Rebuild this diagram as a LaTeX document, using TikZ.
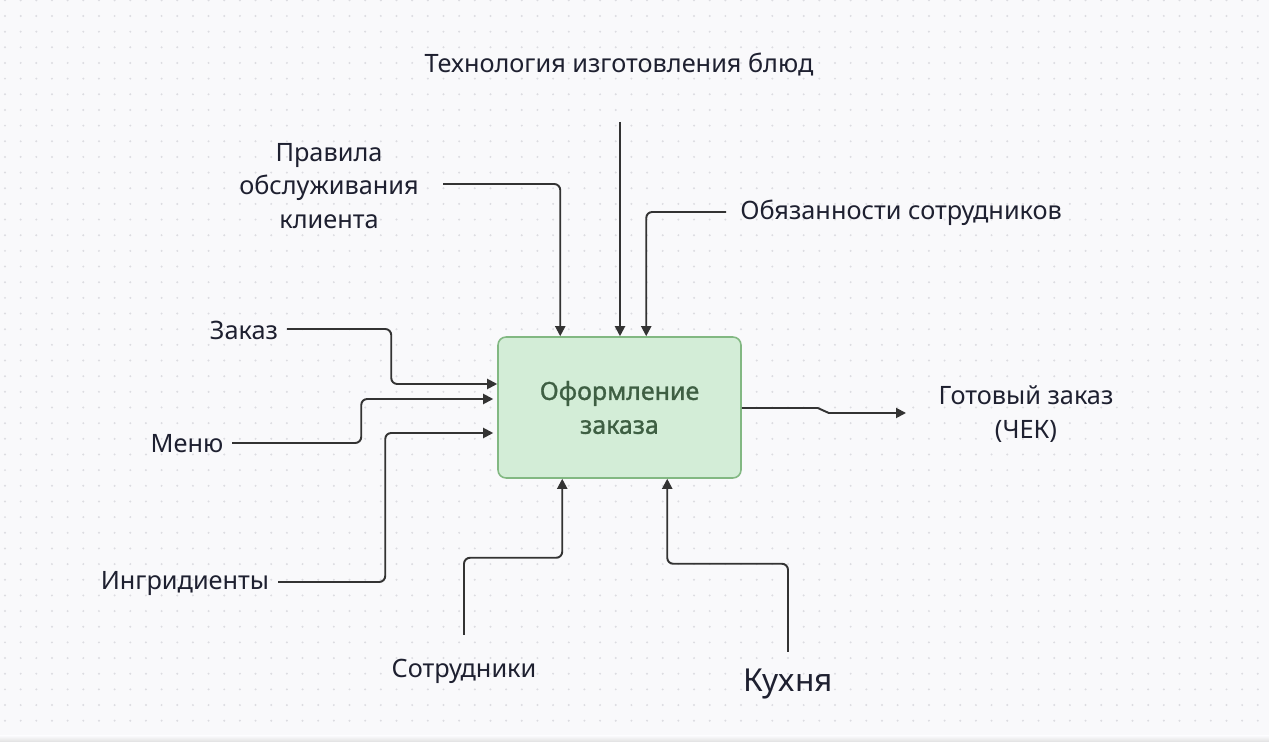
\documentclass[tikz,border=0pt]{standalone}
\usepackage{fontspec}
\setmainfont{Noto Sans}
\newfontfamily\boxfont[FakeBold=1.2]{Noto Sans}
\usetikzlibrary{arrows.meta, positioning, calc}

\definecolor{bgcol}{HTML}{F9F9FB}
\definecolor{dotcol}{HTML}{DCDCE1}
\definecolor{txtcol}{HTML}{1E2030}
\definecolor{linecol}{HTML}{333333}
\definecolor{boxfill}{HTML}{D3EDD7}
\definecolor{boxline}{HTML}{82B882}
\definecolor{boxtext}{HTML}{3E5F43}

\begin{document}
\begin{tikzpicture}[
  x=0.02cm, y=-0.02cm,
  lbl/.style={font=\fontsize{14.4}{19}\selectfont, text=txtcol, align=center, inner sep=0pt},
  proc/.style={draw=boxline, fill=boxfill, rounded corners=0.16cm, line width=0.9pt, minimum width=4.86cm, minimum height=2.82cm, align=center, font=\boxfont\fontsize{14.2}{19.3}\selectfont, text=boxtext},
  flow/.style={-{Triangle[length=2mm, width=2mm]}, line width=1.1pt, draw=linecol, rounded corners=0.12cm}
]

% canvas
\fill[bgcol] (0,0) rectangle (1269,742);
\useasboundingbox (0,0) rectangle (1269,742);
\foreach \i in {0,...,80}
  \foreach \j in {0,...,47}
    \fill[dotcol] (5+\i*15.66, 0.34+\j*15.66) circle (0.022cm);
\shade[top color=bgcol, bottom color=black!12] (0,736) rectangle (1269,742);

% function block
\node[proc] (box) at (619.5,407.5) {Оформление\\заказа};

% labels
\node[lbl] (tech) at (619,65) {Технология изготовления блюд};
\node[lbl] (rules) at (329,186) {Правила\\обслуживания\\клиента};
\node[lbl, anchor=west] (duty) at (740,213) {Обязанности сотрудников};
\node[lbl] (order) at (244,330) {Заказ};
\node[lbl] (menu) at (187,444) {Меню};
\node[lbl] (ingr) at (185,584) {Ингридиенты};
\node[lbl] (done) at (1026,414) {Готовый заказ\\(ЧЕК)};
\node[lbl] (staff) at (464,671) {Сотрудники};
\node[lbl, font=\fontsize{18}{22}\selectfont] (kitchen) at (788,684) {Кухня};

% free ends of the connectors
\coordinate (techS) at (620,122);
\coordinate (rulesS) at (443,184);
\coordinate (dutyS) at (726,212);
\coordinate (orderS) at (287,329);
\coordinate (menuS) at (232,443);
\coordinate (ingrS) at (278,582);
\coordinate (staffS) at (464,635);
\coordinate (kitchS) at (788,652);
\coordinate (doneE) at (906,413);

% controls
\draw[flow] (techS) -- (techS |- box.north);
\draw[flow] (rulesS) -| ($(box.north west)+(63,0)$);
\draw[flow] (dutyS) -| ($(box.north west)+(149,0)$);

% inputs
\draw[flow] (orderS) -| ($(box.west)+(-106,-23.5)$) -- ($(box.west)+(0,-23.5)$);
\draw[flow] (menuS) -| ($(box.west)+(-136,-8.5)$) -- ($(box.west)+(-4,-8.5)$);
\draw[flow] (ingrS) -| ($(box.west)+(-112,25.5)$) -- ($(box.west)+(-4,25.5)$);

% output
\draw[flow, rounded corners=0pt] ($(box.east)+(0,0.5)$) -- ++(76,0) -- ++(11,5) -- (doneE);

% mechanisms
\draw[flow] (staffS) |- ($(box.south west)+(65,79)$) -- ($(box.south west)+(65,0)$);
\draw[flow] (kitchS) |- ($(box.south west)+(170,85)$) -- ($(box.south west)+(170,0)$);

\end{tikzpicture}
\end{document}
